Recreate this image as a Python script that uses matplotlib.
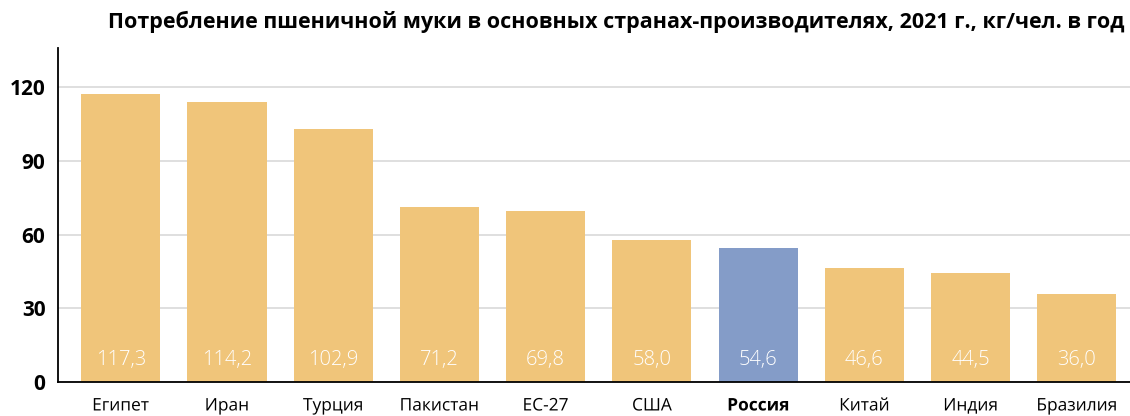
import matplotlib.pyplot as plt
import matplotlib.patheffects as pe
import numpy as np

countries = ["Египет", "Иран", "Турция", "Пакистан", "ЕС-27",
             "США", "Россия", "Китай", "Индия", "Бразилия"]
values = [117.3, 114.2, 102.9, 71.2, 69.8, 58.0, 54.6, 46.6, 44.5, 36.0]
highlight = "Россия"
yticks = [0, 30, 60, 90, 120]
title = "Потребление пшеничной муки в основных странах-производителях, 2021 г., кг/чел. в год"


def main():
    plt.rcParams["font.family"] = ["Open Sans", "DejaVu Sans"]
    fig = plt.figure(figsize=(11.3, 4.16), dpi=100)
    ax = fig.add_axes([58 / 1130, 34 / 416, 1072 / 1130, 334 / 416])

    xs = np.arange(len(countries))
    colors = ["#849cc8" if c == highlight else "#f0c57a" for c in countries]
    ax.bar(xs, values, width=0.745, color=colors, zorder=2)

    for x, v in zip(xs, values):
        ax.annotate(f"{v:.1f}".replace(".", ","), (x, 0), xytext=(0, 16),
                    textcoords="offset points", ha="center", va="center",
                    color="white", fontsize=14.5, fontweight="light")

    ax.set_xlim(-0.59, 9.5)
    ax.set_ylim(0, 136)
    ax.set_yticks(yticks)
    ax.set_yticklabels([str(t) for t in yticks], fontsize=15, fontweight="bold")
    ax.set_xticks(xs)
    ax.set_xticklabels(countries, fontsize=12.5, va="baseline")
    for lbl in ax.get_xticklabels():
        # draw as paths so the Cyrillic descenders don't shift a label
        lbl.set_path_effects([pe.Normal()])
        if lbl.get_text() == highlight:
            lbl.set_fontweight("bold")
    ax.tick_params(axis="x", length=0, pad=20.5)
    ax.tick_params(axis="y", length=0, pad=9)

    ax.grid(axis="y", color="#d9d9d9", linewidth=1.2, zorder=0)
    ax.spines.right.set_visible(False)
    ax.spines.top.set_visible(False)
    ax.spines.left.set_linewidth(1.3)
    ax.spines.bottom.set_linewidth(1.3)

    fig.text(1125 / 1130, 1 - 22 / 416, title, ha="right", va="center",
             fontsize=15.5, fontweight="bold")

    fig.savefig("out.png", dpi=100)


if __name__ == "__main__":
    main()
